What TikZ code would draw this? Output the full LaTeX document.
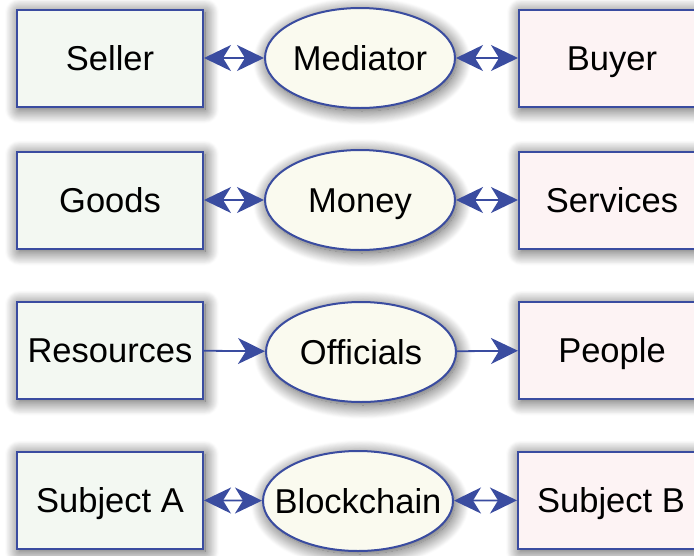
\documentclass[tikz,border=0pt]{standalone}
\usepackage{fontspec}
\setmainfont{Liberation Sans}
\usetikzlibrary{arrows.meta,shapes.geometric,shadows.blur}
\definecolor{edgeblue}{HTML}{3A4CA0}
\definecolor{leftfill}{HTML}{F3F8F2}
\definecolor{rightfill}{HTML}{FDF3F4}
\definecolor{ellfill}{HTML}{FAFAEF}
\newcommand{\lbl}[1]{\makebox[0pt][c]{#1}}
\tikzset{
  base/.style={draw=edgeblue, line width=2pt, font=\fontsize{34.5}{40}\selectfont, inner sep=0pt,
    text height=24.5pt, text depth=0pt,
    blur shadow={shadow xshift=2pt, shadow yshift=-3pt, shadow blur radius=14pt, shadow blur steps=16, shadow opacity=70}},
  lbox/.style={base, rectangle, fill=leftfill, minimum width=186pt, minimum height=97pt},
  rbox/.style={base, rectangle, fill=rightfill, minimum width=186pt, minimum height=97pt},
  ell/.style={base, ellipse, fill=ellfill, minimum width=190pt, minimum height=100pt},
  conn/.style={draw=edgeblue, line width=1.8pt, -{Stealth[length=27pt,width=26pt,inset=8pt]}},
  bconn/.style={draw=edgeblue, line width=1.8pt, {Stealth[length=27pt,width=26pt,inset=8pt]}-{Stealth[length=27pt,width=26pt,inset=8pt]}}
}
\begin{document}
\begin{tikzpicture}[x=1pt,y=1pt]
\useasboundingbox (0,0) rectangle (694,-555);
\clip (0,0) rectangle (694,-555);
\node[lbox] (s) at (110,-58) {\lbl{Seller}};
\node[ell] (m) at (360,-58) {\lbl{Mediator}};
\node[rbox] (b) at (612,-58) {\lbl{Buyer}};
\node[lbox] (g) at (110,-200) {\lbl{Goods}};
\node[ell] (mo) at (360,-200) {\lbl{Money}};
\node[rbox] (sv) at (612,-200) {\lbl{Services}};
\node[lbox] (r) at (110,-350) {\lbl{Resources}};
\node[ell] (o) at (361,-352) {\lbl{Officials}};
\node[rbox] (p) at (612,-350) {\lbl{People}};
\node[lbox] (a) at (110,-500) {\lbl{Subject A}};
\node[ell] (bc) at (358,-501) {\lbl{Blockchain}};
\node[rbox] (sb) at (611,-500) {\lbl{Subject B}};
\draw[bconn] (s) -- (m);
\draw[bconn] (m) -- (b);
\draw[bconn] (g) -- (mo);
\draw[bconn] (mo) -- (sv);
\draw[conn] (r) -- (o);
\draw[conn] (o) -- (p);
\draw[bconn] (a) -- (bc);
\draw[bconn] (bc) -- (sb);
\end{tikzpicture}
\end{document}
